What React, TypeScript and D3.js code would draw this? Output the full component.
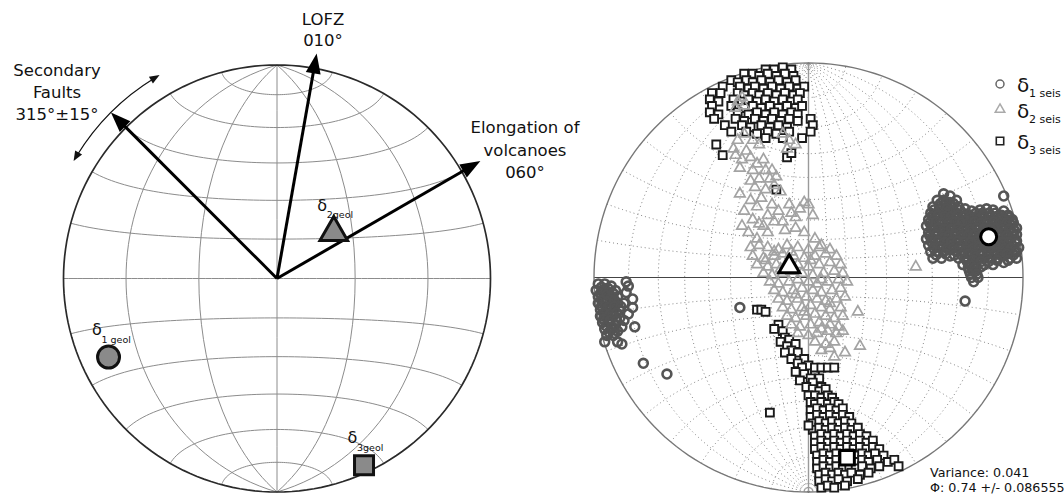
import React from "react";
import * as d3 from "d3";

const WIDTH = 1064;
const HEIGHT = 495;

// ---------- Left net: geological indicators ----------
const directionLabels: string[][] = [
  ["LOFZ", "010°"],
  ["Elongation of", "volcanoes", "060°"],
  ["Secondary", "Faults", "315°±15°"],
];
const directionAzimuths = [10, 60, 315];
const secondaryFaultSpread = 15;

const geolSubscripts = ["1 geol", "2geol", "3geol"];
const geolTrends = [245, 51, 155];
const geolPlunges = [14, 62, 4];

// ---------- Right net: seismic stress inversion ----------
// Net coordinates in percent of the primitive radius (x east, y north).
const sigma1Seis: [number, number][] = [
  // eastern cluster
  [63, 39], [66, 38],
  [60, 36], [63, 36], [66, 35], [69, 36],
  [58, 33], [61, 33], [64, 34], [67, 33], [70, 33], [73, 32], [83, 32],
  [57, 30], [60, 30], [63, 31], [66, 30], [69, 30], [72, 30], [75, 29], [78, 30], [81, 30], [84, 30], [87, 30], [90, 29], [93, 29],
  [56, 27], [59, 28], [62, 27], [65, 27], [68, 28], [71, 27], [74, 27], [77, 27], [80, 28], [83, 27], [86, 27], [89, 27], [92, 27], [95, 27],
  [55, 24], [58, 24], [61, 25], [64, 24], [67, 24], [70, 25], [73, 24], [76, 24], [79, 24], [82, 25], [85, 24], [88, 24], [91, 24], [94, 25], [97, 23],
  [56, 21], [59, 21], [62, 22], [65, 21], [68, 21], [71, 21], [74, 22], [77, 21], [80, 21], [83, 21], [86, 22], [89, 21], [92, 21], [95, 21], [97, 20],
  [55, 18], [58, 18], [61, 18], [64, 19], [67, 18], [70, 18], [73, 18], [76, 19], [79, 18], [82, 18], [85, 18], [88, 19], [91, 18], [94, 18], [97, 17],
  [56, 15], [59, 15], [62, 15], [65, 16], [68, 15], [71, 15], [74, 15], [77, 16], [80, 15], [83, 15], [86, 15], [89, 16], [92, 15], [95, 15], [98, 14],
  [57, 12], [60, 12], [63, 12], [66, 13], [69, 12], [72, 12], [75, 12], [78, 13], [81, 12], [84, 12], [87, 12], [90, 13], [93, 12], [96, 12],
  [58, 9], [62, 9], [66, 10], [70, 9], [73, 9], [76, 10], [79, 9], [82, 9], [85, 9], [88, 9], [91, 10], [94, 9], [97, 9],
  [72, 6], [75, 6], [78, 6], [82, 6], [86, 6], [91, 7],
  [75, 3], [78, 3], [76, 0], [79, 0], [77, -2],
  [61.5, 34.5], [64.5, 35], [67.5, 34.5],
  [58.5, 31.5], [61.5, 31.5], [64.5, 32], [67.5, 31.5], [70.5, 31.5], [76, 31], [80, 31.5], [86, 31.5], [91, 31],
  [57.5, 28.5], [60.5, 29], [63.5, 28.5], [66.5, 28.5], [69.5, 29], [72.5, 28.5], [75.5, 28], [78.5, 28.5], [81.5, 29], [84.5, 28.5], [87.5, 28.5], [90.5, 28], [93.5, 28],
  [56.5, 25.5], [59.5, 26], [62.5, 25.5], [65.5, 25.5], [68.5, 26], [71.5, 25.5], [74.5, 25.5], [77.5, 26], [80.5, 25.5], [83.5, 25.5], [86.5, 26], [89.5, 25.5], [92.5, 25.5], [95.5, 25.5],
  [57.5, 22.5], [60.5, 23], [63.5, 22.5], [66.5, 22.5], [69.5, 23], [72.5, 22.5], [75.5, 22.5], [78.5, 23], [81.5, 22.5], [84.5, 22.5], [87.5, 23], [90.5, 22.5], [93.5, 22.5], [96, 22],
  [56.5, 19.5], [59.5, 20], [62.5, 19.5], [65.5, 19.5], [68.5, 20], [71.5, 19.5], [74.5, 19.5], [77.5, 20], [80.5, 19.5], [83.5, 19.5], [86.5, 20], [89.5, 19.5], [92.5, 19.5], [95.5, 19.5],
  [57.5, 16.5], [60.5, 17], [63.5, 16.5], [66.5, 16.5], [69.5, 17], [72.5, 16.5], [75.5, 16.5], [78.5, 17], [81.5, 16.5], [84.5, 16.5], [87.5, 17], [90.5, 16.5], [93.5, 16.5], [96.5, 16],
  [58.5, 13.5], [61.5, 14], [64.5, 13.5], [67.5, 13.5], [70.5, 14], [73.5, 13.5], [76.5, 13.5], [79.5, 14], [82.5, 13.5], [85.5, 13.5], [88.5, 14], [91.5, 13.5], [94.5, 13.5], [97, 12],
  [59.5, 10.5], [64, 11], [68, 10.5], [71.5, 10.5], [74.5, 11], [77.5, 10.5], [80.5, 10.5], [83.5, 11], [86.5, 10.5], [89.5, 10.5], [92.5, 11], [95.5, 10.5],
  [74, 7.5], [77, 8], [80.5, 7.5], [84, 7.5], [88, 8], [93, 8],
  [74.5, 4.5], [77.5, 4.5], [80.5, 5], [75.5, 1.5], [78.5, 1.5],
  [91, 38], [73, -11],
  // western cluster
  [-98, -3], [-95, -3], [-92, -4],
  [-99, -6], [-96, -6], [-93, -7], [-90, -6],
  [-98, -9], [-95, -10], [-92, -9], [-89, -9],
  [-98, -12], [-95, -12], [-92, -13], [-89, -12], [-86, -12],
  [-97, -15], [-94, -15], [-91, -16], [-88, -15],
  [-97, -18], [-94, -18], [-91, -18], [-88, -19],
  [-96, -21], [-93, -21], [-90, -22],
  [-95, -24], [-92, -24], [-89, -25],
  [-94, -27], [-91, -27],
  [-96.5, -4.5], [-93.5, -5], [-97, -7.5], [-94, -8], [-91, -7.5], [-96.5, -10.5], [-93.5, -11], [-90.5, -10.5],
  [-96.5, -13.5], [-93.5, -14], [-90.5, -13.5], [-87.5, -13.5], [-95.5, -16.5], [-92.5, -17], [-89.5, -16.5],
  [-95.5, -19.5], [-92.5, -20], [-89.5, -20], [-94.5, -22.5], [-91.5, -23], [-93, -25.5], [-90.5, -26],
  [-85, -2], [-84, -4], [-85, -7], [-82, -10], [-82, -14], [-84, -17], [-86, -20], [-87, -23], [-81, -23], [-89, -30], [-87, -31], [-95, -30],
  [-32, -14], [-77, -40], [-66, -45],
];

const sigma2Seis: [number, number][] = [
  [-33, 82], [-30, 80], [-34, 79], [-31, 84],
  [-33, 64], [-30, 67], [-26, 64], [-23, 62], [-12, 67], [-9, 64], [-6, 62], [-10, 60],
  [-34, 57], [-31, 55], [-27, 56], [-24, 53], [-20, 50], [-32, 51], [-23, 46], [-18, 46],
  [-35, 60], [-29, 59], [-26, 50], [-21, 55], [-17, 50], [-15, 47], [-27, 45], [-13, 40],
  [-25, 42], [-20, 41], [-16, 43], [-27, 36], [-22, 37], [-17, 34], [-9, 34], [-4, 32], [0, 34], [-6, 28],
  [-24, 33], [-19, 29], [-14, 31], [-32, 39], [-31, 24], [-21, 24], [-8, 30], [2, 29], [-2, 35], [-12, 26],
  [-30, 31], [-26, 27], [-23, 25], [-28, 21], [-24, 18], [-19, 21], [-16, 26], [-11, 22], [-6, 23], [-2, 21], [3, 18], [6, 15],
  [-27, 14], [-23, 15], [-19, 14], [-14, 13], [-10, 15], [-5, 14], [0, 13], [5, 14], [10, 13],
  [-26, 10], [-21, 9], [-16, 10], [-12, 11], [-7, 10], [-2, 9], [3, 10], [8, 11], [13, 10],
  [-24, 6], [-19, 5], [-15, 6], [-10, 7], [-5, 6], [0, 5], [5, 6], [10, 7], [15, 6],
  [-21, 2], [-17, 1], [-12, 2], [-8, 3], [-3, 2], [2, 1], [7, 2], [12, 3], [16, 2],
  [-18, -2], [-14, -3], [-9, -2], [-5, -1], [0, -2], [4, -3], [9, -2], [14, -1], [18, -2],
  [-16, -6], [-12, -7], [-7, -6], [-3, -5], [2, -6], [6, -7], [11, -6], [15, -5],
  [-14, -10], [-10, -11], [-5, -10], [-1, -9], [4, -10], [8, -11], [13, -10], [17, -9],
  [-12, -14], [-8, -15], [-3, -14], [1, -13], [6, -14], [10, -15], [15, -14],
  [-10, -18], [-6, -19], [-1, -18], [3, -17], [8, -18], [12, -19], [16, -18],
  [-8, -22], [-4, -23], [1, -22], [5, -21], [10, -22], [14, -23],
  [-5, -26], [0, -27], [4, -26], [9, -25], [13, -26], [16, -25],
  [3, -30], [8, -31], [12, -30],
  [-16, 12], [-8, 12], [1, 8], [-13, 4], [6, -1], [-6, -8], [10, -12], [-2, -16], [6, -24], [-20, 8],
  [6, -34], [10, -33], [12, -37], [17, -35], [23, -16], [24, -32], [50, 5],
];

const sigma3Seis: [number, number][] = [
  // northern cluster
  [-20, 97], [-16, 97], [-12, 98], [-8, 97],
  [-30, 95], [-26, 95], [-23, 94], [-19, 95], [-15, 94], [-11, 95], [-7, 94],
  [-36, 92], [-33, 91], [-29, 92], [-26, 91], [-22, 92], [-18, 91], [-14, 92], [-10, 91], [-6, 92],
  [-40, 89], [-32, 89], [-28, 88], [-25, 89], [-21, 88], [-17, 89], [-13, 88], [-9, 89], [-5, 88], [-2, 89],
  [-45, 86], [-41, 86], [-33, 86], [-30, 85], [-26, 86], [-23, 85], [-19, 86], [-15, 85], [-11, 86], [-7, 85], [-4, 86],
  [-46, 83], [-42, 82], [-35, 83], [-31, 82], [-28, 83], [-24, 82], [-20, 83], [-16, 82], [-12, 83], [-8, 82], [-5, 83],
  [-45, 80], [-36, 80], [-30, 79], [-26, 80], [-22, 79], [-18, 80], [-14, 79], [-10, 80], [-6, 79], [-3, 80],
  [-46, 77], [-42, 76], [-33, 77], [-28, 76], [-24, 77], [-20, 76], [-16, 77], [-12, 76], [-8, 77], [-5, 76],
  [-44, 74], [-34, 74], [-30, 73], [-25, 74], [-21, 73], [-17, 74], [-13, 73], [-9, 74], [-5, 73], [1, 74],
  [-39, 71], [-31, 71], [-27, 70], [-22, 71], [-18, 70], [-14, 71], [-10, 70], [2, 71],
  [-36, 68], [-29, 68], [-24, 67], [-19, 68], [-15, 67], [-9, 68], [1, 68],
  [-43, 62], [-40, 57], [-20, 65], [-12, 65], [-3, 65], [-10, 56], [-8, 58], [-15, 41],
  // southern band and cluster
  [-24, -15], [-22, -15], [-20, -16],
  [-14, -22], [-16, -24], [-12, -25], [-11, -28], [-9, -29], [-13, -30], [-10, -32], [-6, -31], [-8, -34], [-11, -35], [-5, -35],
  [-8, -38], [-2, -38], [-5, -40], [0, -41], [-3, -42], [-6, -44], [3, -44], [-2, -45], [1, -47], [5, -47], [-4, -48], [2, -49], [-1, -51], [6, -51],
  [3, -42], [6, -42], [9, -42], [12, -42],
  [2, -52], [5, -53], [8, -52],
  [0, -55], [3, -55], [6, -56], [9, -55], [11, -56],
  [1, -58], [3, -59], [6, -58], [9, -59], [12, -58], [14, -59],
  [1, -62], [4, -61], [7, -62], [10, -61], [13, -62], [16, -61],
  [1, -65], [4, -64], [7, -65], [10, -64], [13, -65], [16, -64], [19, -65],
  [2, -68], [5, -67], [8, -68], [11, -67], [14, -68], [17, -67], [20, -68],
  [2, -71], [5, -70], [8, -71], [11, -70], [14, -71], [17, -70], [20, -71], [23, -70],
  [3, -74], [6, -73], [9, -74], [12, -73], [15, -74], [18, -73], [21, -74], [24, -73], [27, -74],
  [3, -77], [6, -76], [9, -77], [12, -76], [15, -77], [18, -76], [21, -77], [24, -76], [27, -77], [30, -76],
  [3, -80], [6, -79], [9, -80], [12, -79], [15, -80], [18, -79], [21, -80], [24, -79], [27, -80], [30, -79], [33, -80],
  [4, -83], [7, -82], [10, -83], [13, -82], [16, -83], [19, -82], [22, -83], [25, -82], [28, -83], [31, -82], [35, -83],
  [4, -86], [7, -85], [10, -86], [13, -85], [16, -86], [19, -85], [22, -86], [25, -85], [28, -86], [32, -85], [37, -86], [40, -85],
  [4, -89], [7, -88], [10, -89], [13, -88], [16, -89], [19, -88], [22, -89], [25, -88], [29, -89], [33, -88], [42, -88],
  [5, -92], [8, -91], [11, -92], [14, -91], [17, -92], [20, -91], [24, -92], [28, -91],
  [5, -95], [8, -94], [11, -95], [14, -94], [18, -95], [23, -94],
  [6, -98], [9, -97], [12, -98], [17, -97],
  [-18, -63], [0, -69],
];

const seisMeanX = [84, -9, 18];
const seisMeanY = [19, 5, -84];
const seisSubscripts = ["1 seis", "2 seis", "3 seis"];
const variance = 0.041;
const phi = 0.74;
const phiError = 0.086555;

// ---------- Layout ----------
const leftNet = { cx: 277, cy: 278.5, r: 213.5 };
const rightNet = { cx: 808.5, cy: 277.5, r: 214.5 };
const arrowReach = [1.07, 1.1, 1.1];
const labelAnchors = [
  { x: 323, y: 25, dy: 21 },
  { x: 525, y: 133, dy: 22.5 },
  { x: 57, y: 76, dy: 22 },
];
const FONT = "DejaVu Sans";
const deg = Math.PI / 180;

const polar = (c: { cx: number; cy: number }, az: number, r: number): [number, number] => [
  c.cx + r * Math.sin(az * deg),
  c.cy - r * Math.cos(az * deg),
];

// lower-hemisphere line (trend, plunge) -> lon/lat on an equatorial net facing down
const lineToLonLat = (trend: number, plunge: number): [number, number] => {
  const t = trend * deg;
  const p = plunge * deg;
  const lat = Math.asin(Math.cos(p) * Math.cos(t));
  const lon = Math.atan2(Math.cos(p) * Math.sin(t), Math.sin(p));
  return [lon / deg, lat / deg];
};

const leftProj = d3
  .geoAzimuthalEqualArea()
  .rotate([0, 0])
  .scale(leftNet.r / Math.SQRT2)
  .translate([leftNet.cx, leftNet.cy])
  .clipAngle(90)
  .precision(0.1);

const rightProj = d3
  .geoStereographic()
  .rotate([0, 0])
  .scale(rightNet.r)
  .translate([rightNet.cx, rightNet.cy])
  .clipAngle(90)
  .precision(0.1);

const leftGraticule = d3
  .geoGraticule()
  .extentMajor([[-180, -89.9999], [180, 89.9999]])
  .extentMinor([[-180, -89.9999], [180, 89.9999]])
  .step([30, 15]);

const rightGraticule = d3.geoGraticule().step([10, 10]);

const xSeis = d3.scaleLinear().domain([-100, 100]).range([rightNet.cx - rightNet.r, rightNet.cx + rightNet.r]);
const ySeis = d3.scaleLinear().domain([-100, 100]).range([rightNet.cy + rightNet.r, rightNet.cy - rightNet.r]);

const symbolPath = (type: d3.SymbolType, size: number) => d3.symbol().type(type).size(size)() as string;
const symbolTypes = [d3.symbolCircle, d3.symbolTriangle, d3.symbolSquare];

export default function App() {
  const leftPath = d3.geoPath(leftProj);
  const rightPath = d3.geoPath(rightProj);

  const geolPoints = geolTrends.map((t, i) => leftProj(lineToLonLat(t, geolPlunges[i])) as [number, number]);

  const arcR = leftNet.r * arrowReach[2];
  const secAz = directionAzimuths[2];
  const a0 = secAz - secondaryFaultSpread;
  const a1 = secAz + secondaryFaultSpread;
  const arc = d3.path();
  arc.arc(leftNet.cx, leftNet.cy, arcR, (a0 + 1.5 - 90) * deg, (a1 - 1.5 - 90) * deg);
  const arcStart = polar(leftNet, a0, arcR);
  const arcEnd = polar(leftNet, a1, arcR);

  const seisSeries = [
    { pts: sigma3Seis, type: d3.symbolSquare, size: 62, stroke: "#1a1a1a", fill: "#fff", sw: 1.9 },
    { pts: sigma2Seis, type: d3.symbolTriangle, size: 48, stroke: "#a3a3a3", fill: "none", sw: 1.7 },
    { pts: sigma1Seis, type: d3.symbolCircle, size: 62, stroke: "#555", fill: "none", sw: 2.6 },
  ];
  const meanSizes = [200, 190, 210];
  const legendStyles = [
    { stroke: "#666", sw: 1.5 },
    { stroke: "#aaa", sw: 1.5 },
    { stroke: "#222", sw: 1.6 },
  ];
  const legendY = [84, 109.5, 141];

  return (
    <svg
      width={WIDTH}
      height={HEIGHT}
      style={{ position: "absolute", left: 0, top: 0, background: "#fff" }}
      fontFamily={FONT}
    >
      <rect width={WIDTH} height={HEIGHT} fill="#fff" />

      {/* ---------- Left: Schmidt net ---------- */}
      <g>
        <path d={leftPath(leftGraticule()) || ""} fill="none" stroke="#8c8c8c" strokeWidth={1} />
        <path d={leftPath({ type: "Sphere" } as any) || ""} fill="none" stroke="#2a2a2a" strokeWidth={1.7} />

        {/* spread of secondary faults */}
        <path d={arc.toString()} fill="none" stroke="#111" strokeWidth={1.2} />
        <path d="M0,0L-4,10L4,10Z" fill="#111" transform={`translate(${arcEnd[0]},${arcEnd[1]}) rotate(${a1 + 90})`} />
        <path d="M0,0L-4,10L4,10Z" fill="#111" transform={`translate(${arcStart[0]},${arcStart[1]}) rotate(${a0 - 90})`} />

        {directionAzimuths.map((az, i) => {
          const len = leftNet.r * arrowReach[i];
          const tip = polar(leftNet, az, len);
          const shaftEnd = polar(leftNet, az, len - 12);
          return (
            <g key={`dir-${i}`}>
              <line x1={leftNet.cx} y1={leftNet.cy} x2={shaftEnd[0]} y2={shaftEnd[1]} stroke="#000" strokeWidth={3} />
              <path d="M0,0L-7.5,20L7.5,20Z" fill="#000" transform={`translate(${tip[0]},${tip[1]}) rotate(${az})`} />
            </g>
          );
        })}

        {directionLabels.map((lines, i) => (
          <text key={`dl-${i}`} textAnchor="middle" fontSize={16.5} fill="#111">
            {lines.map((s, j) => (
              <tspan key={j} x={labelAnchors[i].x} y={labelAnchors[i].y + j * labelAnchors[i].dy}>
                {s}
              </tspan>
            ))}
          </text>
        ))}

        {geolPoints.map(([x, y], i) => (
          <g key={`geol-${i}`}>
            <path
              d={symbolPath(symbolTypes[i], [380, 330, 361][i])}
              transform={`translate(${x},${y})`}
              fill="#8a8a8a"
              stroke="#111"
              strokeWidth={3}
            />
            <text x={x - 16.5} y={y - 22} fontSize={16} fill="#111">δ</text>
            <text x={x - 7} y={y - 14.5} fontSize={9.5} fill="#111">{geolSubscripts[i]}</text>
          </g>
        ))}
      </g>

      {/* ---------- Right: seismic inversion ---------- */}
      <g>
        <path
          d={rightPath(rightGraticule()) || ""}
          fill="none"
          stroke="#7a7a7a"
          strokeWidth={0.9}
          strokeDasharray="1 3"
        />
        <line
          x1={rightNet.cx}
          y1={rightNet.cy - rightNet.r}
          x2={rightNet.cx}
          y2={rightNet.cy + rightNet.r}
          stroke="#9a9a9a"
          strokeWidth={1.4}
        />
        <line
          x1={rightNet.cx - rightNet.r}
          y1={rightNet.cy}
          x2={rightNet.cx + rightNet.r}
          y2={rightNet.cy}
          stroke="#444"
          strokeWidth={1.1}
        />
        <path d={rightPath({ type: "Sphere" } as any) || ""} fill="none" stroke="#777" strokeWidth={1.4} />

        {seisSeries.map((s, si) => {
          const d = symbolPath(s.type, s.size);
          return (
            <g key={`ser-${si}`}>
              {s.pts.map(([u, v], k) => (
                <path
                  key={k}
                  d={d}
                  transform={`translate(${xSeis(u)},${ySeis(v)})`}
                  fill={s.fill}
                  stroke={s.stroke}
                  strokeWidth={s.sw}
                />
              ))}
            </g>
          );
        })}

        {seisMeanX.map((u, i) => (
          <path
            key={`mean-${i}`}
            d={symbolPath(symbolTypes[i], meanSizes[i])}
            transform={`translate(${xSeis(u)},${ySeis(seisMeanY[i])})`}
            fill="#fff"
            stroke="#000"
            strokeWidth={3}
          />
        ))}

        {/* legend */}
        {seisSubscripts.map((sub, i) => (
          <g key={`leg-${i}`}>
            <path
              d={symbolPath(symbolTypes[i], [50, 40, 55][i])}
              transform={`translate(1000,${legendY[i]})`}
              fill="#fff"
              stroke={legendStyles[i].stroke}
              strokeWidth={legendStyles[i].sw}
            />
            <text x={1017} y={legendY[i] + 8} fontSize={20} fill="#111">δ</text>
            <text x={1029} y={legendY[i] + 13} fontSize={11} fill="#111">{sub}</text>
          </g>
        ))}

        <text x={930} y={476.5} fontSize={12.7} fill="#111">{`Variance: ${variance}`}</text>
        <text x={930} y={492} fontSize={12.7} fill="#111">{`Φ: ${phi} +/- ${phiError}`}</text>
      </g>
    </svg>
  );
}
